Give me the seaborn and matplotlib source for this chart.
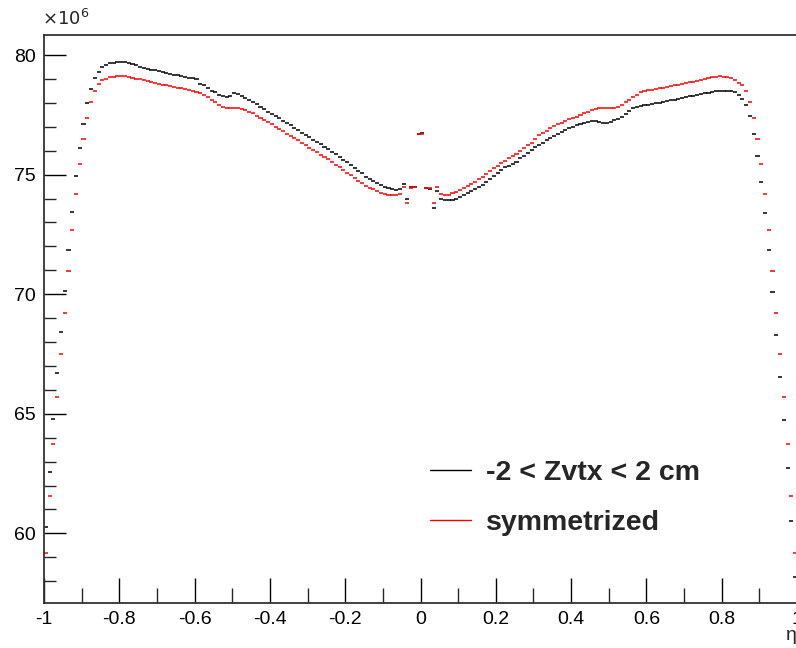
import numpy as np
import pandas as pd
import matplotlib
matplotlib.use("Agg")
import matplotlib.pyplot as plt
from matplotlib.lines import Line2D
from matplotlib.ticker import MultipleLocator
import seaborn as sns

# ---- data (values in units of 10^6) ----
eta_min, eta_max, n_bins = -1.0, 1.0, 200

zvtx_vals = [
    60.25, 62.58, 64.77, 66.69, 68.43, 70.13, 71.85, 73.45, 74.93, 76.10,
    77.12, 78.00, 78.60, 79.05, 79.30, 79.50, 79.60, 79.65, 79.68, 79.72,
    79.72, 79.70, 79.68, 79.62, 79.58, 79.52, 79.47, 79.43, 79.39, 79.36,
    79.33, 79.29, 79.25, 79.22, 79.18, 79.15, 79.12, 79.09, 79.06, 79.04,
    79.02, 78.80, 78.75, 78.62, 78.50, 78.44, 78.35, 78.28, 78.24, 78.30,
    78.40, 78.38, 78.30, 78.22, 78.14, 78.04, 77.94, 77.84, 77.73, 77.63,
    77.54, 77.45, 77.35, 77.26, 77.16, 77.06, 76.96, 76.86, 76.76, 76.66,
    76.57, 76.47, 76.37, 76.27, 76.17, 76.06, 75.96, 75.85, 75.74, 75.63,
    75.52, 75.41, 75.29, 75.17, 75.05, 74.92, 74.82, 74.74, 74.66, 74.58,
    74.50, 74.43, 74.38, 74.36, 74.42, 74.61, 73.98, 74.48, 74.47, 76.70,
    76.75, 74.45, 74.42, 73.62, 74.31, 73.97, 73.94, 73.93, 73.96, 74.00,
    74.06, 74.13, 74.22, 74.30, 74.39, 74.48, 74.58, 74.70, 74.82, 74.94,
    75.06, 75.18, 75.30, 75.38, 75.46, 75.54, 75.68, 75.80, 75.92, 76.03,
    76.14, 76.24, 76.34, 76.44, 76.54, 76.63, 76.71, 76.79, 76.87, 76.94,
    77.01, 77.06, 77.11, 77.16, 77.20, 77.23, 77.25, 77.22, 77.15, 77.16,
    77.22, 77.27, 77.33, 77.40, 77.55, 77.68, 77.78, 77.85, 77.89, 77.91,
    77.93, 77.95, 77.98, 78.01, 78.05, 78.08, 78.11, 78.14, 78.17, 78.20,
    78.23, 78.27, 78.30, 78.33, 78.37, 78.40, 78.43, 78.46, 78.48, 78.50,
    78.51, 78.51, 78.49, 78.45, 78.35, 78.18, 77.92, 77.45, 76.71, 75.79,
    74.69, 73.41, 71.85, 70.09, 68.29, 66.55, 64.74, 62.72, 60.52, 58.16,
]

sym_vals = [
    59.19, 61.56, 63.74, 65.72, 67.51, 69.21, 70.97, 72.67, 74.19, 75.43,
    76.50, 77.37, 78.05, 78.50, 78.80, 78.95, 79.02, 79.07, 79.10, 79.13,
    79.14, 79.13, 79.10, 79.06, 79.02, 78.98, 78.95, 78.91, 78.87, 78.82,
    78.79, 78.76, 78.73, 78.70, 78.67, 78.64, 78.61, 78.58, 78.55, 78.50,
    78.45, 78.40, 78.35, 78.25, 78.12, 78.02, 77.90, 77.82, 77.80, 77.80,
    77.80, 77.78, 77.76, 77.72, 77.64, 77.56, 77.47, 77.38, 77.28, 77.19,
    77.10, 77.01, 76.92, 76.82, 76.72, 76.62, 76.53, 76.43, 76.33, 76.23,
    76.13, 76.03, 75.93, 75.84, 75.74, 75.64, 75.54, 75.42, 75.30, 75.19,
    75.08, 74.97, 74.86, 74.75, 74.64, 74.53, 74.45, 74.38, 74.31, 74.25,
    74.20, 74.17, 74.15, 74.15, 74.20, 74.47, 73.80, 74.45, 74.47, 76.70,
    76.70, 74.45, 74.45, 73.80, 74.47, 74.18, 74.15, 74.17, 74.22, 74.29,
    74.36, 74.44, 74.52, 74.60, 74.70, 74.80, 74.90, 75.02, 75.14, 75.26,
    75.37, 75.47, 75.58, 75.68, 75.78, 75.88, 75.98, 76.10, 76.22, 76.34,
    76.48, 76.64, 76.74, 76.84, 76.94, 77.03, 77.11, 77.18, 77.25, 77.31,
    77.36, 77.43, 77.50, 77.57, 77.64, 77.70, 77.76, 77.79, 77.80, 77.80,
    77.80, 77.80, 77.84, 77.93, 78.03, 78.14, 78.25, 78.35, 78.44, 78.49,
    78.52, 78.55, 78.58, 78.61, 78.64, 78.67, 78.70, 78.73, 78.76, 78.80,
    78.83, 78.86, 78.89, 78.92, 78.95, 78.99, 79.03, 79.07, 79.10, 79.12,
    79.10, 79.07, 79.03, 78.95, 78.85, 78.75, 78.50, 78.05, 77.37, 76.50,
    75.43, 74.19, 72.67, 70.97, 69.21, 67.51, 65.72, 63.74, 61.56, 59.19,
]

series_labels = ["-2 < Zvtx < 2 cm", "symmetrized"]
series_colors = ["black", "red"]
x_tick_vals = [-1, -0.8, -0.6, -0.4, -0.2, 0, 0.2, 0.4, 0.6, 0.8, 1]
x_tick_labels = ["-1", "-0.8", "-0.6", "-0.4", "-0.2", "0", "0.2", "0.4", "0.6", "0.8", "1"]
y_tick_vals = [60, 65, 70, 75, 80]
y_tick_labels = ["60", "65", "70", "75", "80"]
x_title = "η"
y_exponent = r"$\times10^{6}$"

# ---- build table ----
bin_w = (eta_max - eta_min) / n_bins
eta = eta_min + bin_w * (np.arange(n_bins) + 0.5)
df = pd.DataFrame({
    "eta": np.concatenate([eta, eta]),
    "value": np.concatenate([zvtx_vals, sym_vals]),
    "series": [series_labels[0]] * n_bins + [series_labels[1]] * n_bins,
})

sns.set_theme(style="ticks")
plt.rcParams["font.family"] = ["Liberation Sans", "DejaVu Sans"]

W, H = 796, 648
fig = plt.figure(figsize=(W / 100, H / 100), dpi=100)
ax = fig.add_axes([44 / W, 45 / H, 753 / W, 568 / H])

# bin width in points for the horizontal dash markers
bin_px = 753 / (eta_max - eta_min) * bin_w
bin_pt = bin_px * 72 / 100
sns.scatterplot(data=df, x="eta", y="value", hue="series",
                hue_order=series_labels, palette=series_colors,
                marker="_", s=(bin_pt * 1.08) ** 2, linewidth=1.1,
                legend=False, ax=ax)

ax.set_xlim(eta_min, eta_max)
ax.set_ylim(57.09, 80.84)
ax.set_xlabel("")
ax.set_ylabel("")

ax.set_xticks(x_tick_vals)
ax.set_xticklabels(x_tick_labels)
ax.set_yticks(y_tick_vals)
ax.set_yticklabels(y_tick_labels)
ax.xaxis.set_minor_locator(MultipleLocator(0.1))
ax.yaxis.set_minor_locator(MultipleLocator(1))

ax.tick_params(axis="x", which="major", direction="in", length=18, width=1.0,
               labelsize=14, pad=6, colors="black")
ax.tick_params(axis="x", which="minor", direction="in", length=11, width=1.0)
ax.tick_params(axis="y", which="major", direction="in", length=16, width=1.0,
               labelsize=14, pad=6, colors="black")
ax.tick_params(axis="y", which="minor", direction="in", length=8.5, width=1.0)

for side in ["left", "bottom", "top"]:
    ax.spines[side].set_visible(True)
    ax.spines[side].set_color("#333333")
    ax.spines[side].set_linewidth(1.3)
ax.spines["right"].set_visible(False)

# legend
handles = [Line2D([0], [0], color=c, lw=1.0) for c in series_colors]
ax.legend(handles, series_labels, loc="center left",
          bbox_to_anchor=(430 / W, 1 - 498 / H), bbox_transform=fig.transFigure,
          frameon=False, prop={"weight": "bold", "size": 20.5},
          handlelength=1.45, handletextpad=0.5, labelspacing=0.85,
          borderpad=0, borderaxespad=0)

fig.text(42 / W, 1 - 25 / H, y_exponent, fontsize=13, ha="left", va="baseline")
fig.text(786 / W, 1 - 640 / H, x_title, fontsize=14, ha="left", va="baseline")

fig.savefig("out.png", dpi=100)
